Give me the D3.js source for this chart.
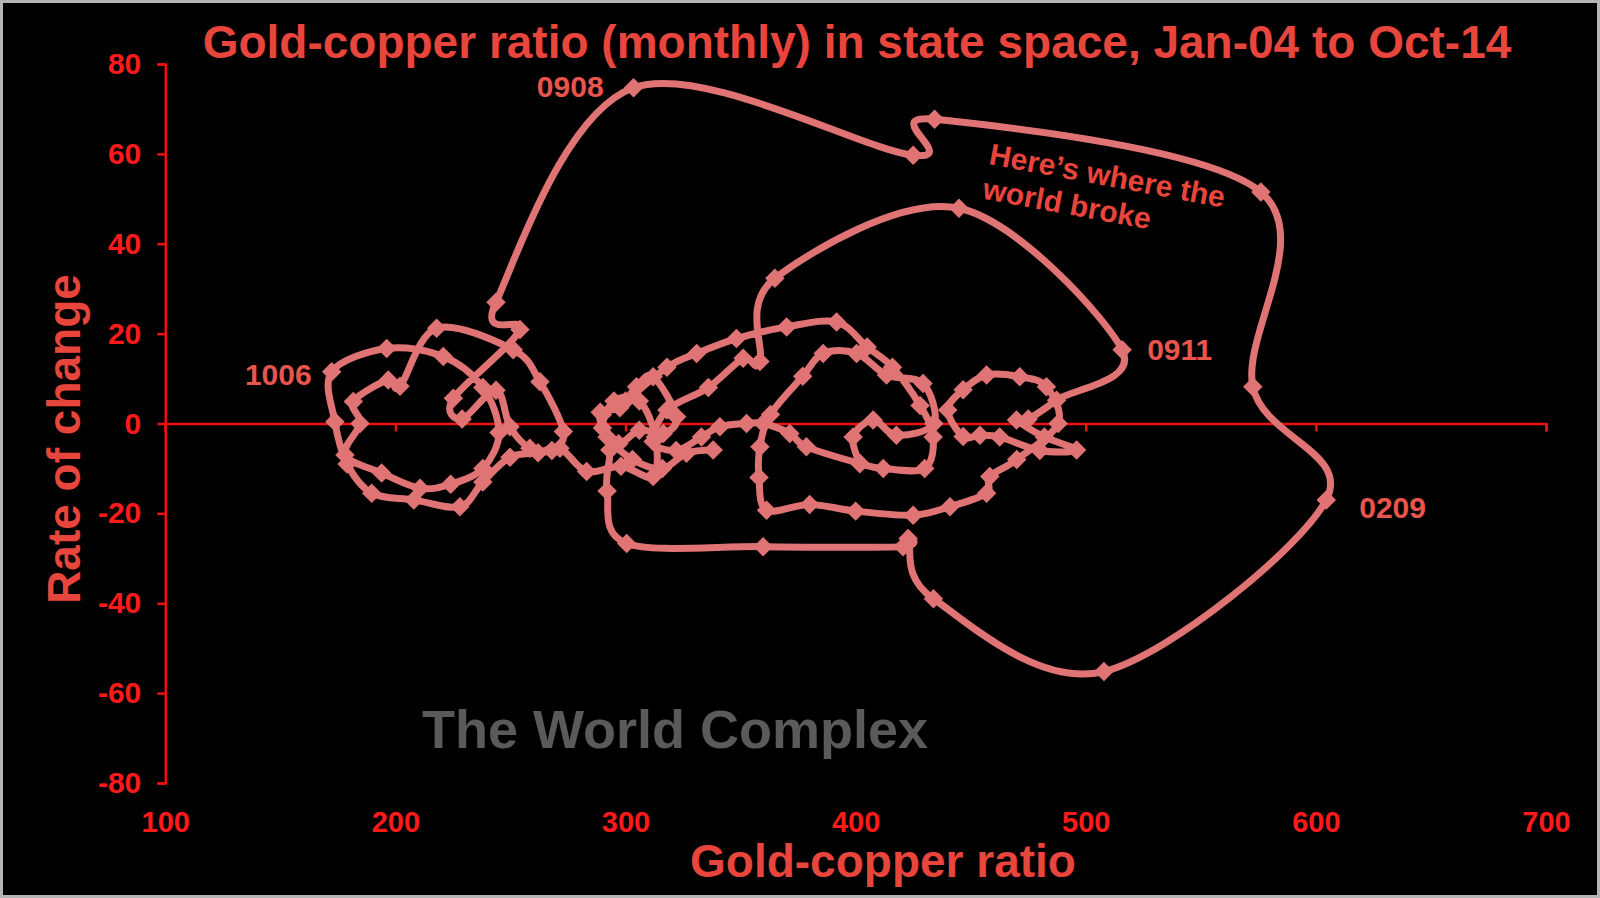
<!DOCTYPE html>
<html><head><meta charset="utf-8">
<script src="https://cdn.jsdelivr.net/npm/d3@7"></script>
<style>html,body{margin:0;padding:0;background:#000;} svg{display:block;font-family:"Liberation Sans",Arial,sans-serif;}</style>
</head><body>
<svg id="c" width="1600" height="898"></svg>
<script>
// Gold-copper ratio (x) and its rate of change (y), monthly
const ratio = [
  338.1,326.5,316,303,292,289,297.5,304.8,312,322.2,316.4,306,297,290,295,306,313,312,298,283.1,271.5,
  262,249.8,238,228,208,189.7,179,173.7,172.3,196.2,220.8,238,245,238,224,210.7,194,178.1,184.6,181.7,196.9,202,217.9,251.2,262.8,273,268,258.4,249.8,243.7,229,225.2,254.1,243.7,
  303.5,425,434.3,576.1,572.6,604.5,507.9,433.8,422.8,420.6,359.8,300.5,
  292,293.2,290,300,318,330.9,348.2,370,391.7,405,416,428,433.7,430,412,401.8,378.6,371.4,359.8,352.6,341,333,322,312,318,336,351.1,358.4,
  364.9,444.9,515.8,
  487.3,475,469.9,482,496,480,462.6,454,446.7,440,446.7,456.9,471.3,482.9,488,470,458.3,456.9,
  441,425,400,380,361.3,358,358.4,363,377,385.9,400.4,413.4,429.3,434,417.7,407.6,398.9,401.8];
const rate = [
  -5.9,-6.6,-10,-8,-3,2.5,3.5,8.2,10.4,1.5,-2.2,-1.5,-4.5,-1,5,5,-3,-11.8,-9.5,-10.7,-5.5,
  -6.5,-7.5,-13,-18.5,-17,-15.5,-9,0.4,11.5,16.7,14.9,8,-2,-10,-13.5,-14.4,-11,-7,0,4.9,9.7,8.3,21.2,16.4,9.3,-1.8,-6,-5.5,-0.7,7.4,1,5.6,20.9,27,
  74.7,59.7,67.7,51.5,8.2,-17,-55.2,-39,-25.6,-27.4,-27.4,-26.7,
  -15,-5.9,2,5,12.5,15.6,18.9,21.5,22.6,17,12.5,4,-3,-10,-10,-8.9,-5.2,-2.2,0,0,-0.7,-3,-6,-4,3,8,14.5,13.8,
  32.3,47.9,16.4,
  5.2,1,0.8,-3,-5.9,-6,-3,-2.6,-2.9,3,7.5,10.8,10.4,8.2,0,-8,-11.8,-15.5,
  -18.5,-20.4,-19.5,-18,-19.3,-12,-5.2,2,10.5,15.6,15.6,10.8,8.9,0,-2.6,0.8,-3,-8.9];
const xTicks = [100,200,300,400,500,600,700];
const yTicks = [-80,-60,-40,-20,0,20,40,60,80];
const pointLabels = ["0908","1006","0911","0209"];
const pointLabelIdx = [55,29,97,60];

const svg = d3.select("#c");
const W = 1600, H = 898;
svg.append("rect").attr("x",0).attr("y",0).attr("width",W).attr("height",H).attr("fill","#000");
svg.append("rect").attr("x",1.5).attr("y",1.5).attr("width",W-3).attr("height",H-3)
  .attr("fill","none").attr("stroke","#b4b4b4").attr("stroke-width",3);

const x = d3.scaleLinear().domain([100,700]).range([165.3,1546]);
const y = d3.scaleLinear().domain([-80,80]).range([783,64]);
const red = "#ee1111";
const fmt = d => String(d);

// y axis
const yAx = svg.append("g").attr("transform",`translate(${x(100)},0)`)
  .call(d3.axisLeft(y).tickValues(yTicks).tickSize(8).tickPadding(16).tickFormat(fmt));
yAx.select(".domain").attr("stroke",red).attr("stroke-width",2.5);
yAx.selectAll(".tick line").attr("stroke",red).attr("stroke-width",2.5);
yAx.selectAll(".tick text").attr("fill","#ff1a1a").attr("font-size",30).attr("font-weight","bold")
  .attr("font-family","'Liberation Sans',Arial,sans-serif");

// x axis at zero
const xAx = svg.append("g").attr("transform",`translate(0,${y(0)})`)
  .call(d3.axisBottom(x).tickValues(xTicks).tickSize(8).tickFormat(""));
xAx.select(".domain").attr("stroke",red).attr("stroke-width",2.5);
xAx.selectAll(".tick line").attr("stroke",red).attr("stroke-width",2.5);

// x tick labels at the bottom
const xLab = svg.append("g").attr("transform",`translate(0,${y(-80)})`)
  .call(d3.axisBottom(x).tickValues(xTicks).tickSize(0).tickPadding(28).tickFormat(fmt));
xLab.select(".domain").remove();
xLab.selectAll(".tick text").attr("fill","#ff1a1a").attr("font-size",29).attr("font-weight","bold")
  .attr("font-family","'Liberation Sans',Arial,sans-serif");

// watermark
svg.append("text").attr("x",675).attr("y",748).attr("text-anchor","middle")
  .attr("font-size",54).attr("font-weight","bold").attr("fill","#5a5a5a").text("The World Complex");

// trajectory
const pts = ratio.map((r,i)=>[r, rate[i]]);
const lineCol = "#e07474";
const line = d3.line().x(d=>x(d[0])).y(d=>y(d[1])).curve(d3.curveCardinal.tension(0));
svg.append("path").attr("d",line(pts)).attr("fill","none").attr("stroke",lineCol)
  .attr("stroke-width",7).attr("stroke-linejoin","round").attr("stroke-linecap","round");
const sym = d3.symbol().type(d3.symbolSquare).size(190);
svg.append("g").selectAll("path").data(pts).join("path")
  .attr("d",sym).attr("transform",d=>`translate(${x(d[0])},${y(d[1])}) rotate(45)`)
  .attr("fill",lineCol);

// point labels
const labOff = [[-30,9,"end"],[-20,13,"end"],[25,10,"start"],[33,18,"start"]];
pointLabels.forEach((t,i)=>{
  const p = pts[pointLabelIdx[i]];
  svg.append("text").attr("x",x(p[0])+labOff[i][0]).attr("y",y(p[1])+labOff[i][1])
    .attr("text-anchor",labOff[i][2]).attr("font-size",30).attr("font-weight","bold")
    .attr("fill","#e8554c").text(t);
});

// annotation
const ann = svg.append("g").attr("transform","translate(988,164) rotate(10.5)");
ann.append("text").attr("x",0).attr("y",0).attr("font-size",30).attr("font-weight","bold").attr("fill","#e8453c").text("Here\u2019s where the");
ann.append("text").attr("x",0).attr("y",35).attr("font-size",30).attr("font-weight","bold").attr("fill","#e8453c").text("world broke");

// titles
svg.append("text").attr("x",857).attr("y",58).attr("text-anchor","middle")
  .attr("font-size",46).attr("font-weight","bold").attr("fill","#e8453c")
  .text("Gold-copper ratio (monthly) in state space, Jan-04 to Oct-14");
svg.append("text").attr("x",883).attr("y",877).attr("text-anchor","middle")
  .attr("font-size",46).attr("font-weight","bold").attr("fill","#e8453c").text("Gold-copper ratio");
svg.append("text").attr("transform","translate(80,439) rotate(-90)").attr("text-anchor","middle")
  .attr("font-size",46).attr("font-weight","bold").attr("fill","#e8453c").text("Rate of change");
</script>
</body></html>
